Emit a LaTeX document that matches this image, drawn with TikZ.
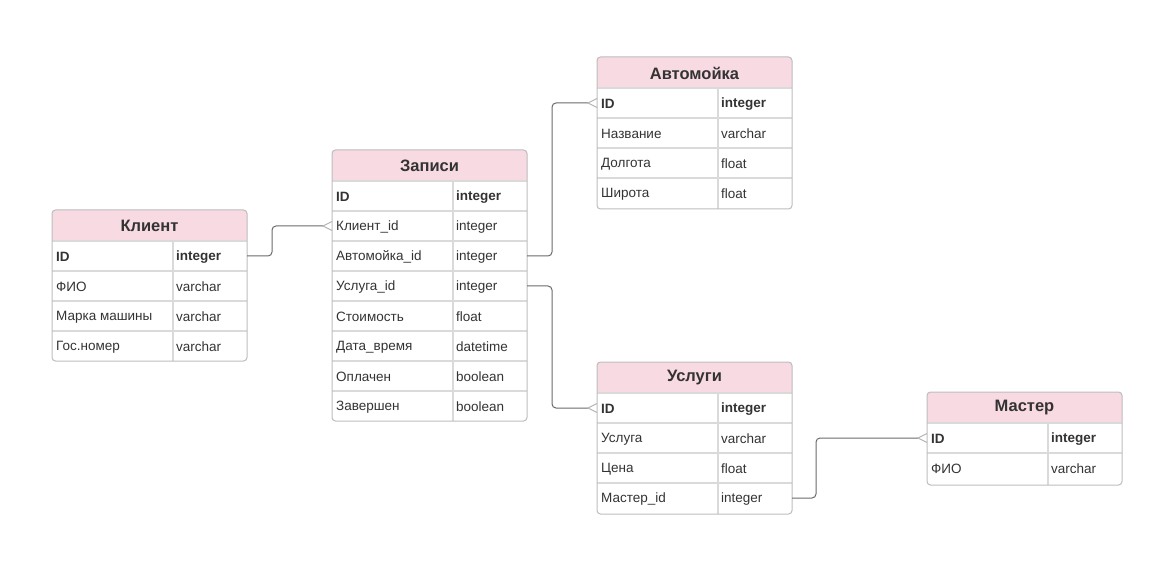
\documentclass[tikz,border=0pt]{standalone}
\usepackage{fontspec}
\setmainfont{Liberation Sans}
\definecolor{hdrpink}{HTML}{F8DAE3}
\definecolor{framegray}{HTML}{BDBDBD}
\definecolor{sepgray}{HTML}{DADADA}
\definecolor{txtgray}{HTML}{333333}
\definecolor{linegray}{HTML}{6A6A6A}
\definecolor{crowgray}{HTML}{B4B4B4}
\newcommand{\crowfoot}[1]{\draw[crow] ([yshift=4.5pt]#1.west) -- ([xshift=-9pt]#1.west) -- ([yshift=-4.5pt]#1.west);}
\begin{document}
\begin{tikzpicture}[x=1pt, y=-1pt]

	% ---------- Parameters ----------
	\def\W{195} % table width
	\def\D{121} % offset of the type column

	% ---------- Helper styles ----------
	\tikzset{
		rowbox/.style={minimum width=195pt, minimum height=30pt, inner sep=0pt, outer sep=0pt, anchor=north west},
		fld/.style={anchor=west, inner sep=0pt, yshift=-1pt, text=txtgray, font=\fontsize{13.5}{15}\selectfont},
		title/.style={text=txtgray, font=\fontsize{16.5}{19}\selectfont\bfseries},
		sep/.style={draw=sepgray, line width=1.2pt},
		frame/.style={draw=framegray, line width=1pt, rounded corners=3.5pt},
		conn/.style={draw=linegray, line width=1pt, rounded corners=4pt},
		crow/.style={draw=crowgray, line width=1pt}
	}

	\useasboundingbox (0,0) rectangle (1151,577);

	% ---------- Клиент ----------
	\begin{scope}[shift={(52,210)}]
		\fill[hdrpink, rounded corners=3.5pt] (0,0) rectangle (\W,31);
		\fill[hdrpink] (0,15) rectangle (\W,31);
		\node[title] (K-h) at (\W/2,16) {Клиент};
		\foreach \i/\fld/\typ in {1/ID/integer,2/ФИО/varchar,3/Марка машины/varchar,4/Гос.номер/varchar}{
			\node[rowbox] (K-\i) at (0,{31+(\i-1)*30}) {};
			\draw[sep] (K-\i.north west) -- (K-\i.north east);
			\node[fld] at ([xshift=4pt]K-\i.west) {\ifnum\i=1\bfseries\fi\fld};
			\node[fld] at ([xshift=124pt]K-\i.west) {\ifnum\i=1\bfseries\fi\typ};
		}
		\draw[sep] (\D,31) -- (\D,151);
		\draw[frame] (0,0) rectangle (\W,151);
	\end{scope}

	% ---------- Записи ----------
	\begin{scope}[shift={(332,150)}]
		\fill[hdrpink, rounded corners=3.5pt] (0,0) rectangle (\W,31);
		\fill[hdrpink] (0,15) rectangle (\W,31);
		\node[title] (Z-h) at (\W/2,16) {Записи};
		\foreach \i/\fld/\typ in {1/ID/integer,2/Клиент\_id/integer,3/Автомойка\_id/integer,4/Услуга\_id/integer,
			5/Стоимость/float,6/Дата\_время/datetime,7/Оплачен/boolean,8/Завершен/boolean}{
			\node[rowbox] (Z-\i) at (0,{31+(\i-1)*30}) {};
			\draw[sep] (Z-\i.north west) -- (Z-\i.north east);
			\node[fld] at ([xshift=4pt]Z-\i.west) {\ifnum\i=1\bfseries\fi\fld};
			\node[fld] at ([xshift=124pt]Z-\i.west) {\ifnum\i=1\bfseries\fi\typ};
		}
		\draw[sep] (\D,31) -- (\D,271);
		\draw[frame] (0,0) rectangle (\W,271);
	\end{scope}

	% ---------- Автомойка ----------
	\begin{scope}[shift={(597,57)}]
		\fill[hdrpink, rounded corners=3.5pt] (0,0) rectangle (\W,31);
		\fill[hdrpink] (0,15) rectangle (\W,31);
		\node[title] (A-h) at (\W/2,16) {Автомойка};
		\foreach \i/\fld/\typ in {1/ID/integer,2/Название/varchar,3/Долгота/float,4/Широта/float}{
			\node[rowbox] (A-\i) at (0,{31+(\i-1)*30}) {};
			\draw[sep] (A-\i.north west) -- (A-\i.north east);
			\node[fld] at ([xshift=4pt]A-\i.west) {\ifnum\i=1\bfseries\fi\fld};
			\node[fld] at ([xshift=124pt]A-\i.west) {\ifnum\i=1\bfseries\fi\typ};
		}
		\draw[sep] (\D,31) -- (\D,152);
		\draw[frame] (0,0) rectangle (\W,152);
	\end{scope}

	% ---------- Услуги ----------
	\begin{scope}[shift={(597,362)}]
		\fill[hdrpink, rounded corners=3.5pt] (0,0) rectangle (\W,31);
		\fill[hdrpink] (0,15) rectangle (\W,31);
		\node[title] (U-h) at (\W/2,16) {Услуги};
		\foreach \i/\fld/\typ in {1/ID/integer,2/Услуга/varchar,3/Цена/float,4/Мастер\_id/integer}{
			\node[rowbox] (U-\i) at (0,{31+(\i-1)*30}) {};
			\draw[sep] (U-\i.north west) -- (U-\i.north east);
			\node[fld] at ([xshift=4pt]U-\i.west) {\ifnum\i=1\bfseries\fi\fld};
			\node[fld] at ([xshift=124pt]U-\i.west) {\ifnum\i=1\bfseries\fi\typ};
		}
		\draw[sep] (\D,31) -- (\D,152);
		\draw[frame] (0,0) rectangle (\W,152);
	\end{scope}

	% ---------- Мастер ----------
	\begin{scope}[shift={(927,392)}]
		\fill[hdrpink, rounded corners=3.5pt] (0,0) rectangle (\W,31);
		\fill[hdrpink] (0,15) rectangle (\W,31);
		\node[title] (M-h) at (\W/2,16) {Мастер};
		\foreach \i/\fld/\typ in {1/ID/integer,2/ФИО/varchar}{
			\node[rowbox] (M-\i) at (0,{31+(\i-1)*30}) {};
			\draw[sep] (M-\i.north west) -- (M-\i.north east);
			\node[fld] at ([xshift=4pt]M-\i.west) {\ifnum\i=1\bfseries\fi\fld};
			\node[fld] at ([xshift=124pt]M-\i.west) {\ifnum\i=1\bfseries\fi\typ};
		}
		\draw[sep] (\D,31) -- (\D,93);
		\draw[frame] (0,0) rectangle (\W,93);
	\end{scope}

	% ---------- Relations ----------
	\draw[conn] (K-1.east) -- ++(25,0) |- ([xshift=-9pt]Z-2.west);
	\crowfoot{Z-2}
	\draw[conn] (Z-3.east) -- ++(25,0) |- ([xshift=-9pt]A-1.west);
	\crowfoot{A-1}
	\draw[conn] (Z-4.east) -- ++(25,0) |- ([xshift=-9pt]U-1.west);
	\crowfoot{U-1}
	\draw[conn] (U-4.east) -- ++(24,0) |- ([xshift=-9pt]M-1.west);
	\crowfoot{M-1}

\end{tikzpicture}
\end{document}
